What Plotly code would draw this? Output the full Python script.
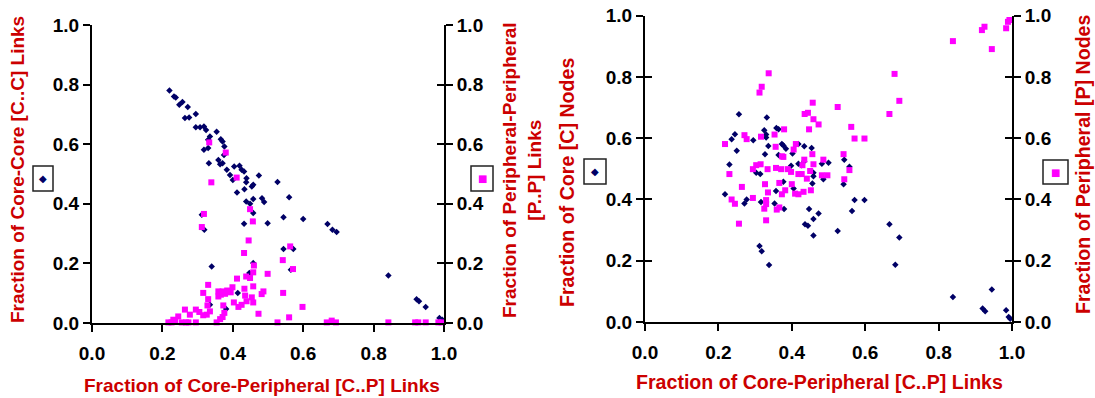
import plotly.graph_objects as go

# ---------------- Left panel: links ----------------
cc_x = [0.220,0.233,0.238,0.248,0.257,0.272,0.264,0.276,0.295,0.295,0.307,0.318,0.324,0.354,0.335,0.330,
        0.366,0.371,0.376,0.318,0.330,0.375,0.332,0.359,0.364,0.371,0.383,0.392,0.400,0.404,0.419,0.425,
        0.432,0.439,0.438,0.474,0.458,0.454,0.412,0.433,0.527,0.438,0.449,0.458,0.483,0.489,0.560,0.458,
        0.432,0.499,0.544,0.600,0.669,0.683,0.695,0.312,0.319,0.544,0.572,0.565,0.340,0.458,0.447,0.414,
        0.335,0.381,0.842,0.922,0.929,0.948,0.987,0.995]
cc_y = [0.780,0.760,0.757,0.732,0.742,0.725,0.688,0.690,0.701,0.657,0.657,0.659,0.648,0.642,0.626,0.615,
        0.617,0.609,0.592,0.581,0.587,0.564,0.536,0.547,0.533,0.536,0.514,0.497,0.480,0.525,0.528,0.514,
        0.508,0.486,0.472,0.495,0.464,0.458,0.438,0.449,0.473,0.408,0.400,0.416,0.419,0.406,0.422,0.369,
        0.333,0.335,0.355,0.349,0.332,0.313,0.305,0.363,0.313,0.248,0.248,0.179,0.190,0.201,0.168,0.101,
        0.061,0.047,0.159,0.080,0.073,0.054,0.017,0.011]

pp_x = [0.333,0.380,0.411,0.339,0.449,0.318,0.457,0.312,0.445,0.432,0.563,0.542,0.460,0.571,0.499,0.458,
        0.438,0.449,0.412,0.330,0.433,0.458,0.399,0.359,0.371,0.384,0.394,0.316,0.366,0.359,0.378,0.487,
        0.482,0.543,0.435,0.454,0.330,0.439,0.403,0.458,0.425,0.328,0.373,0.416,0.598,0.264,0.295,0.305,
        0.335,0.278,0.245,0.316,0.326,0.376,0.371,0.473,0.560,0.231,0.364,0.217,0.226,0.236,0.255,0.267,
        0.274,0.295,0.354,0.527,0.667,0.681,0.693,0.842,0.918,0.927,0.948,0.984,0.993]
pp_y = [0.606,0.572,0.488,0.472,0.382,0.366,0.341,0.322,0.277,0.235,0.257,0.211,0.193,0.181,0.165,0.170,
        0.156,0.151,0.149,0.128,0.115,0.123,0.120,0.106,0.106,0.109,0.103,0.101,0.095,0.089,0.098,0.106,
        0.097,0.101,0.092,0.086,0.080,0.073,0.069,0.069,0.061,0.059,0.059,0.054,0.054,0.045,0.045,0.037,
        0.039,0.028,0.022,0.026,0.028,0.034,0.020,0.031,0.019,0.011,0.013,0.002,0.002,0.006,0.002,0.002,
        0.002,0.002,0.002,0.002,0.002,0.008,0.002,0.002,0.002,0.002,0.002,0.002,0.002]

# ---------------- Right panel: nodes ----------------
cn_x = [0.256,0.332,0.245,0.236,0.325,0.330,0.330,0.358,0.364,0.295,0.336,0.250,0.327,0.373,0.377,0.384,
        0.402,0.364,0.418,0.434,0.454,0.230,0.303,0.314,0.398,0.418,0.427,0.434,0.459,0.459,0.482,0.500,
        0.486,0.543,0.557,0.541,0.377,0.357,0.405,0.456,0.218,0.271,0.277,0.316,0.353,0.379,0.447,0.571,
        0.598,0.564,0.436,0.444,0.459,0.473,0.459,0.525,0.666,0.693,0.312,0.318,0.338,0.682,0.839,0.945,
        0.920,0.927,0.984,0.991,0.995]
cn_y = [0.678,0.668,0.613,0.597,0.626,0.612,0.602,0.633,0.629,0.593,0.575,0.559,0.548,0.581,0.576,0.566,
        0.550,0.545,0.581,0.574,0.568,0.514,0.487,0.483,0.510,0.517,0.512,0.525,0.487,0.476,0.517,0.520,
        0.466,0.530,0.507,0.450,0.458,0.428,0.436,0.452,0.417,0.387,0.400,0.392,0.387,0.369,0.369,0.398,
        0.398,0.362,0.319,0.314,0.336,0.354,0.282,0.297,0.319,0.276,0.248,0.231,0.186,0.187,0.082,0.106,
        0.044,0.035,0.038,0.016,0.011]

pn_x = [0.993,0.989,0.984,0.918,0.925,0.945,0.839,0.337,0.318,0.312,0.680,0.693,0.666,0.457,0.525,0.435,
        0.444,0.459,0.473,0.447,0.379,0.353,0.316,0.271,0.277,0.218,0.562,0.571,0.598,0.411,0.405,0.356,
        0.373,0.377,0.456,0.434,0.429,0.459,0.486,0.541,0.303,0.315,0.294,0.334,0.357,0.371,0.389,0.398,
        0.418,0.427,0.441,0.450,0.482,0.497,0.557,0.230,0.543,0.327,0.366,0.400,0.264,0.335,0.382,0.373,
        0.409,0.418,0.432,0.452,0.236,0.245,0.294,0.330,0.330,0.325,0.359,0.366,0.330,0.256]
pn_y = [0.986,0.980,0.959,0.953,0.964,0.891,0.917,0.812,0.768,0.749,0.810,0.722,0.679,0.716,0.702,0.679,
        0.683,0.662,0.645,0.629,0.629,0.612,0.605,0.610,0.597,0.581,0.637,0.599,0.599,0.581,0.563,0.572,
        0.541,0.539,0.548,0.530,0.512,0.515,0.530,0.548,0.512,0.515,0.499,0.499,0.503,0.499,0.499,0.490,
        0.483,0.483,0.468,0.493,0.479,0.479,0.496,0.483,0.466,0.450,0.454,0.450,0.441,0.423,0.430,0.417,
        0.419,0.417,0.425,0.430,0.400,0.386,0.405,0.398,0.385,0.370,0.367,0.374,0.332,0.321]

tick_vals = [0.0, 0.2, 0.4, 0.6, 0.8, 1.0]
tick_text = ["0.0", "0.2", "0.4", "0.6", "0.8", "1.0"]

NAVY = "#000066"
PINK = "#FF00FF"
RED = "#CC0000"
W, H = 1095, 398
FONT = "Liberation Sans, Arial, sans-serif"

fig = go.Figure()

def pts(x, y, xa, ya, color, symbol, size):
    fig.add_trace(go.Scatter(x=x, y=y, xaxis=xa, yaxis=ya, mode="markers",
                             marker=dict(color=color, symbol=symbol, size=size, line=dict(width=0)),
                             cliponaxis=False, showlegend=False, hoverinfo="x+y"))

def empty(xa, ya):
    fig.add_trace(go.Scatter(x=[None], y=[None], xaxis=xa, yaxis=ya, mode="markers",
                             showlegend=False, hoverinfo="skip"))

pts(pp_x, pp_y, "x", "y2", PINK, "square", 6)
pts(cc_x, cc_y, "x", "y", NAVY, "diamond", 5)
empty("x", "y3")
pts(pn_x, pn_y, "x2", "y5", PINK, "square", 6)
pts(cn_x, cn_y, "x2", "y4", NAVY, "diamond", 5)
empty("x2", "y6")
empty("x2", "y7")

tickfont = dict(family=FONT, size=19, color="black", weight="bold")
bold_ticks = ["<b>" + t + "</b>" for t in tick_text]

def ax(**kw):
    d = dict(range=[0, 1], tickvals=tick_vals, ticktext=bold_ticks, showgrid=False, zeroline=False,
             showline=True, linecolor="black", linewidth=2, ticks="outside", ticklen=7,
             tickwidth=2, tickcolor="black", tickfont=tickfont, fixedrange=True, automargin=False)
    d.update(kw)
    return d

LX = [92 / W, 444 / W]
RX = [645 / W, 1012 / W]
LY = [1 - 323 / H, 1 - 25 / H]
RY = [1 - 322 / H, 1 - 15.7 / H]

fig.update_layout(
    width=W, height=H, margin=dict(l=0, r=0, t=0, b=0, autoexpand=False),
    paper_bgcolor="white", plot_bgcolor="white",
    xaxis=ax(domain=LX, anchor="y", ticklabelstandoff=5),
    yaxis=ax(domain=LY, anchor="x", side="left"),
    yaxis2=ax(overlaying="y", anchor="x", side="right"),
    yaxis3=ax(overlaying="y", anchor="x", side="right", ticks="inside", showticklabels=False, showline=False),
    xaxis2=ax(domain=RX, anchor="y4", ticklabelstandoff=5),
    yaxis4=ax(domain=RY, anchor="x2", side="left"),
    yaxis5=ax(overlaying="y4", anchor="x2", side="right"),
    yaxis6=ax(overlaying="y4", anchor="x2", side="left", ticks="inside", showticklabels=False, showline=False),
    yaxis7=ax(overlaying="y4", anchor="x2", side="right", ticks="inside", showticklabels=False, showline=False),
)

def px_ann(text, x, y, angle=0, size=19):
    fig.add_annotation(text="<b>" + text.replace("<br>", "</b><br><b>") + "</b>",
                       x=x / W, y=1 - y / H, xref="paper", yref="paper",
                       showarrow=False, textangle=angle,
                       font=dict(family=FONT, size=size, color=RED, weight="bold"),
                       xanchor="center", yanchor="middle")

px_ann("Fraction of Core-Peripheral [C..P] Links", 262, 385)
px_ann("Fraction of Core-Peripheral [C..P] Links", 819, 382, size=19.6)
px_ann("Fraction of Core-Core [C..C] Links", 18, 170, -90)
px_ann("Fraction of Peripheral-Peripheral<br>[P..P] Links", 522, 170, -90)
px_ann("Fraction of Core [C] Nodes", 567, 183, -90, size=19.6)
px_ann("Fraction of Peripheral [P] Nodes", 1083, 164, -90, size=19.6)

# legend-like keys
def key(x0, y0, x1, y1, glyph, color):
    fig.add_shape(type="rect", xref="paper", yref="paper",
                  x0=x0 / W, x1=x1 / W, y0=1 - y1 / H, y1=1 - y0 / H,
                  line=dict(color="#222222", width=1.5), fillcolor="rgba(0,0,0,0)")
    fig.add_annotation(text=glyph, x=(x0 + x1) / 2 / W, y=1 - (y0 + y1) / 2 / H,
                       xref="paper", yref="paper", showarrow=False,
                       font=dict(family="DejaVu Sans", size=10, color=color),
                       xanchor="center", yanchor="middle")

key(33, 166, 53, 191, "◆", NAVY)
key(471, 166, 493, 191, "■", PINK)
key(584, 159, 606, 184, "◆", NAVY)
key(1043, 160, 1068, 184, "■", PINK)

fig.write_html("out.html")
